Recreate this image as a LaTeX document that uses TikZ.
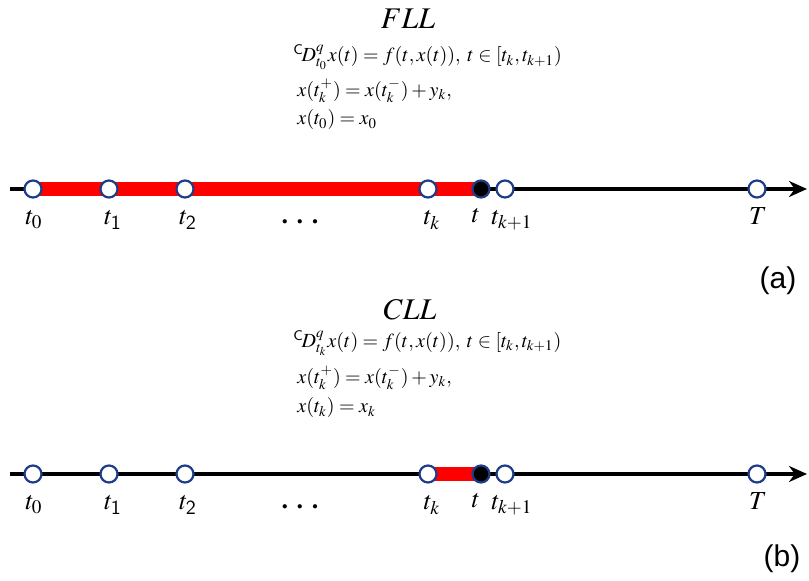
\documentclass[tikz,border=0pt]{standalone}
\usepackage{mathptmx}
\usepackage{fontspec}
\setmainfont{Liberation Serif}
\usetikzlibrary{arrows.meta,positioning,backgrounds}
\newfontfamily\arialfont{Liberation Sans}
\definecolor{ring}{HTML}{1F3C88}
\definecolor{span}{HTML}{FF0000}
\tikzset{
  tick/.style={circle, draw=ring, fill=white, line width=1.1pt, minimum size=8.5pt, inner sep=0pt},
  now/.style={tick, fill=black},
  axis/.style={line width=1.6pt, -{Stealth[length=9pt, width=8pt]}},
  bar/.style={span, line width=7pt},
  lbl/.style={font=\fontsize{13}{15}\selectfont, inner sep=0pt},
  eqn/.style={anchor=west, font=\fontsize{10}{12}\selectfont, inner sep=0pt},
  title/.style={font=\fontsize{15}{17}\selectfont, inner sep=0pt},
  part/.style={font=\arialfont\fontsize{15}{17}\selectfont, inner sep=0pt},
}

\begin{document}
\begin{tikzpicture}[x=0.5pt, y=-0.5pt]
    \useasboundingbox (0,0) rectangle (809,581);

    % (a) full lower limit
    \node[title] (fll) at (408,19) {$FLL$};
    \node[eqn] (fa1) at (293,57) {${}^{\mathsf{C}}\!D^{q}_{t_0}x(t)=f(t,x(t)),\; t\in[t_k,t_{k+1})$};
    \node[eqn] (fa2) at (297,91) {$x(t_k^+)=x(t_k^-)+y_k,$};
    \node[eqn] (fa3) at (297,120) {$x(t_0)=x_0$};

    \coordinate (sa) at (10,189);
    \coordinate (ea) at (807,189);
    \node[tick] (a0) at (33,189) {};
    \node[tick] (a1) at (109,189) {};
    \node[tick] (a2) at (185,189) {};
    \node[tick] (ak) at (428,189) {};
    \node[now]  (at) at (481,189) {};
    \node[tick] (ak1) at (505,189) {};
    \node[tick] (aT) at (757,189) {};
    \begin{scope}[on background layer]
      \draw[axis] (sa) -- (ea);
      \draw[bar] (a0.center) -- (at.center);
    \end{scope}

    \node[lbl] (la0) at (34,220) {$t_0$};
    \node[lbl] (la1) at (113,220) {$t_{\mathsf{1}}$};
    \node[lbl] (la2) at (188,220) {$t_{\mathsf{2}}$};
    \node[lbl] (lad) at (300,222) {\textbf{. . .}};
    \node[lbl] (lak) at (432,220) {$t_k$};
    \node[lbl] (lat) at (476,216) {$t$};
    \node[lbl] (lak1) at (512,220) {$t_{k+1}$};
    \node[lbl] (laT) at (758,216) {$T$};
    \node[part] (pa) at (778,281) {(a)};

    % (b) changing lower limit
    \node[title] (cll) at (410,310) {$CLL$};
    \node[eqn] (fb1) at (293,343) {${}^{\mathsf{C}}\!D^{q}_{t_k}x(t)=f(t,x(t)),\; t\in[t_k,t_{k+1})$};
    \node[eqn] (fb2) at (297,378) {$x(t_k^+)=x(t_k^-)+y_k,$};
    \node[eqn] (fb3) at (297,408) {$x(t_k)=x_k$};

    \coordinate (sb) at (10,474);
    \coordinate (eb) at (807,474);
    \node[tick] (b0) at (33,474) {};
    \node[tick] (b1) at (109,474) {};
    \node[tick] (b2) at (185,474) {};
    \node[tick] (bk) at (428,474) {};
    \node[now]  (bt) at (481,474) {};
    \node[tick] (bk1) at (505,474) {};
    \node[tick] (bT) at (757,474) {};
    \begin{scope}[on background layer]
      \draw[axis] (sb) -- (eb);
      \draw[bar] (bk.center) -- (bt.center);
    \end{scope}

    \node[lbl] (lb0) at (34,505) {$t_0$};
    \node[lbl] (lb1) at (113,505) {$t_{\mathsf{1}}$};
    \node[lbl] (lb2) at (188,505) {$t_{\mathsf{2}}$};
    \node[lbl] (lbd) at (300,507) {\textbf{. . .}};
    \node[lbl] (lbk) at (432,505) {$t_k$};
    \node[lbl] (lbt) at (476,501) {$t$};
    \node[lbl] (lbk1) at (512,505) {$t_{k+1}$};
    \node[lbl] (lbT) at (758,501) {$T$};
    \node[part] (pb) at (782,559) {(b)};
\end{tikzpicture}
\end{document}
